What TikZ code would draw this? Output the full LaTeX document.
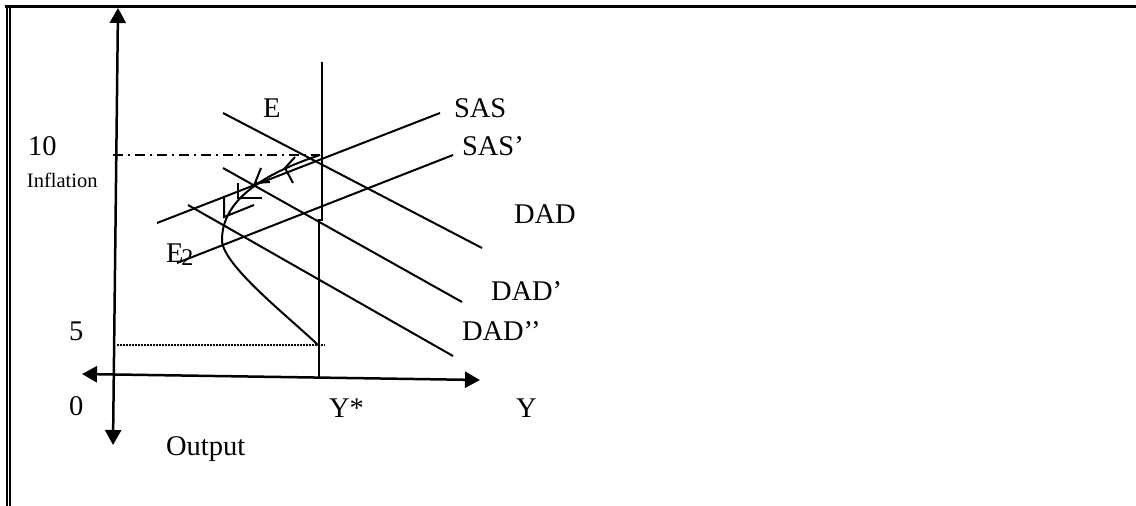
\documentclass[tikz,border=0pt]{standalone}
\usepackage{fontspec}
\setmainfont{Liberation Serif}
\usetikzlibrary{arrows.meta}

\begin{document}
\begin{tikzpicture}[x=1pt, y=-1pt, line width=2pt,
  >={Triangle[length=15pt, width=16pt]},
  lbl/.style={font=\fontsize{28.5}{30}\selectfont, inner sep=0pt, anchor=base west},
  smalllbl/.style={font=\fontsize{20.5}{22}\selectfont, inner sep=0pt, anchor=base west},
  pathline/.style={line width=2pt},
  chevron/.style={line width=2pt, line join=miter}]

\useasboundingbox (0,0) rectangle (1136,506);

% Frame: heavy top rule, double rule on the left
\draw[line width=3.5pt] (5,6.7) -- (1136,6.7);
\draw (7,5) -- (7,506);
\draw[line width=1.5pt] (10.2,8) -- (10.2,506);

% =========== Axes ===========
\coordinate (ybot) at (113,445);
\coordinate (ytop) at (118,8);
\coordinate (xleft) at (82,374);
\coordinate (xright) at (480,380);
\draw[<->, line width=2.5pt] (ybot) -- (ytop);
\draw[<->, line width=2.5pt] (xleft) -- (xright);

% Long-run output Y*
\coordinate (ystartop) at (322,62);
\coordinate (ystarstep) at (322,220);
\coordinate (ystarmid) at (318.5,220);
\coordinate (ystarbot) at (318.5,378);
\draw (ystartop) -- (ystarstep) -- (ystarmid) -- (ystarbot);

% Guide lines at 10 and 5
\coordinate (tenleft) at (113,155);
\coordinate (eq) at (320,155);
\draw[dash pattern=on 10pt off 5pt on 2pt off 5pt] (tenleft) -- (eq);
\coordinate (fiveleft) at (117,345);
\coordinate (fiveright) at (325,345);
\draw[line width=1.5pt, dash pattern=on 1.5pt off 1.5pt] (fiveleft) -- (fiveright);

% =========== Supply curves ===========
\coordinate (sasa) at (157,223);
\coordinate (sasb) at (440,113);
\draw (sasa) -- (sasb);
\coordinate (sas1a) at (177,263);
\coordinate (sas1b) at (453,155);
\draw (sas1a) -- (sas1b);

% =========== Demand curves ===========
\coordinate (dada) at (223,113);
\coordinate (dadb) at (482,248);
\draw (dada) -- (dadb);
\coordinate (dad1a) at (223,168);
\coordinate (dad1b) at (462,302);
\draw (dad1a) -- (dad1b);
\coordinate (dad2a) at (188,205);
\coordinate (dad2b) at (453,356);
\draw (dad2a) -- (dad2b);

% =========== Adjustment path ===========
\coordinate (turn) at (222,240);
\coordinate (pathend) at (318,345);
\draw[pathline] (eq) .. controls (263,174) and (222,200) .. (turn)
  .. controls (222,265) and (289,317) .. (pathend);

% arrow marks along the path
\draw[chevron] (295,157) -- (285,168) -- (293,183);
\draw[chevron] (261,168) -- (255,183) -- (270,182);
\draw[chevron] (238,183) -- (238,198) -- (262,198);
\draw[chevron] (224,197) -- (224,217) -- (254,205);

% =========== Labels ===========
\node[lbl] (lble) at (262,117) {E};
\node[lbl] (lblsas) at (453,117) {SAS};
\node[lbl] (lblsas1) at (461,155) {SAS’};
\node[lbl] (lbldad) at (513,223) {DAD};
\node[lbl] (lbldad1) at (490,300) {DAD’};
\node[lbl] (lbldad2) at (461,340) {DAD’’};
\node[lbl] (lble2) at (165,262) {E\kern-2pt\raisebox{-3pt}{\fontsize{24}{24}\selectfont 2}};

\node[lbl] (lblten) at (27,155) {10};
\node[smalllbl] (lblinfl) at (26,187) {Inflation};
\node[lbl] (lblfive) at (68,340) {5};
\node[lbl] (lblzero) at (68,415) {0};
\node[lbl] (lblystar) at (328,417) {Y*};
\node[lbl] (lbly) at (515,417) {Y};
\node[lbl] (lblout) at (165,455) {Output};

\end{tikzpicture}
\end{document}
